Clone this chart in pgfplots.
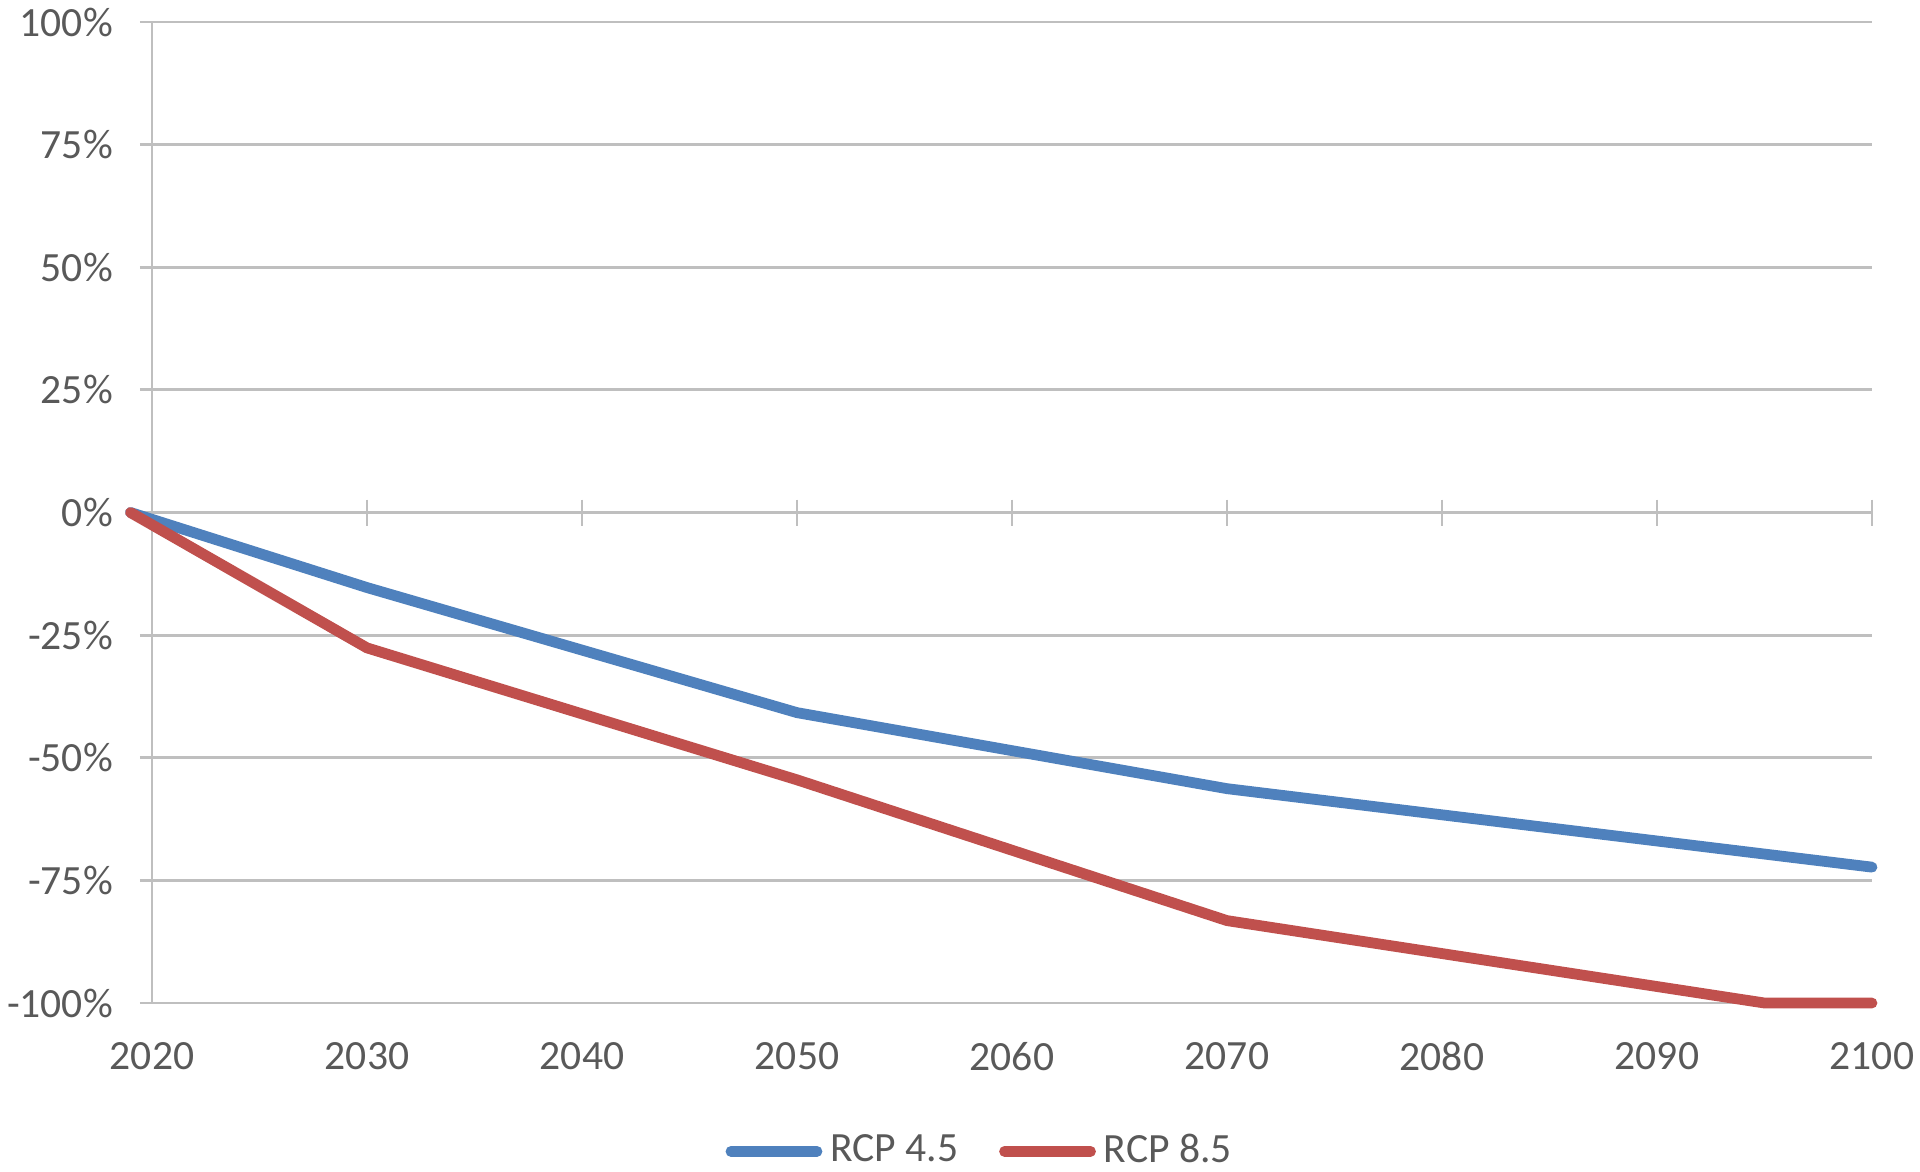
\documentclass[border=0pt]{standalone}
\usepackage{fontspec}
\setmainfont{Carlito}
\usepackage{pgfplots}
\pgfplotsset{compat=1.18}
\definecolor{rcpblue}{HTML}{4F81BD}
\definecolor{rcpred}{HTML}{C0504D}
\definecolor{gridgray}{HTML}{BFBFBF}
\definecolor{txtgray}{HTML}{595959}
\begin{document}
\begin{tikzpicture}
\fontsize{10.4}{12}\selectfont
\begin{axis}[
  at={(38pt,42pt)}, anchor=south west,
  scale only axis, width=430pt, height=245.25pt,
  xmin=2020, xmax=2100, ymin=-100, ymax=100,
  clip=false,
  axis lines*=left,
  separate axis lines,
  x axis line style={draw=none},
  y axis line style={draw=gridgray, line width=0.7pt},
  xtick={2020,2030,2040,2050,2060,2070,2080,2090,2100},
  xticklabels={2020,2030,2040,2050,2060,2070,2080,2090,2100},
  ytick={-100,-75,-50,-25,0,25,50,75,100},
  yticklabels={-100\%,-75\%,-50\%,-25\%,0\%,25\%,50\%,75\%,100\%},
  xtick style={draw=none},
  ytick style={draw=gridgray, line width=0.7pt},
  tick align=outside,
  major tick length=3pt,
  ymajorgrids,
  grid style={draw=gridgray, line width=0.7pt},
  xticklabel style={anchor=center, inner sep=0pt, yshift=-10.3pt, text=txtgray, font=\fontsize{10.4}{12}\selectfont},
  yticklabel style={anchor=east, inner sep=0pt, xshift=-6.6pt, text=txtgray, font=\fontsize{10.4}{12}\selectfont},
  legend style={draw=none, fill=none, at={(0.4830,-0.1512)}, anchor=center,
    legend columns=2, inner sep=0pt, text=txtgray,
    font=\fontsize{10.4}{12}\selectfont,
    /tikz/every even column/.append style={column sep=8.2pt}},
  legend cell align=left,
  legend image code/.code={\draw[line width=2.7pt, line cap=round] (0pt,0pt) -- (21.5pt,0pt);},
]
\draw[gridgray, line width=0.7pt] (axis cs:2020,0) -- (axis cs:2100,0);
\pgfplotsinvokeforeach{2030,2040,2050,2060,2070,2080,2090,2100}{
  \draw[gridgray, line width=0.7pt] ([yshift=3.25pt]axis cs:#1,0) -- ([yshift=-3.25pt]axis cs:#1,0);
}
\addplot[rcpblue, line width=2.7pt, line cap=round, line join=round] coordinates {
  (2019,0) (2030,-15.3) (2050,-40.8) (2070,-56.3) (2100,-72.3)
};
\addlegendentry{RCP 4.5}
\addplot[rcpred, line width=2.7pt, line cap=round, line join=round] coordinates {
  (2019,0) (2030,-27.6) (2050,-54.5) (2070,-83.2) (2095,-100) (2100,-100)
};
\addlegendentry{RCP 8.5}
\end{axis}
\pgfresetboundingbox
\useasboundingbox (0,0) rectangle (480pt,292.75pt);
\end{tikzpicture}
\end{document}
